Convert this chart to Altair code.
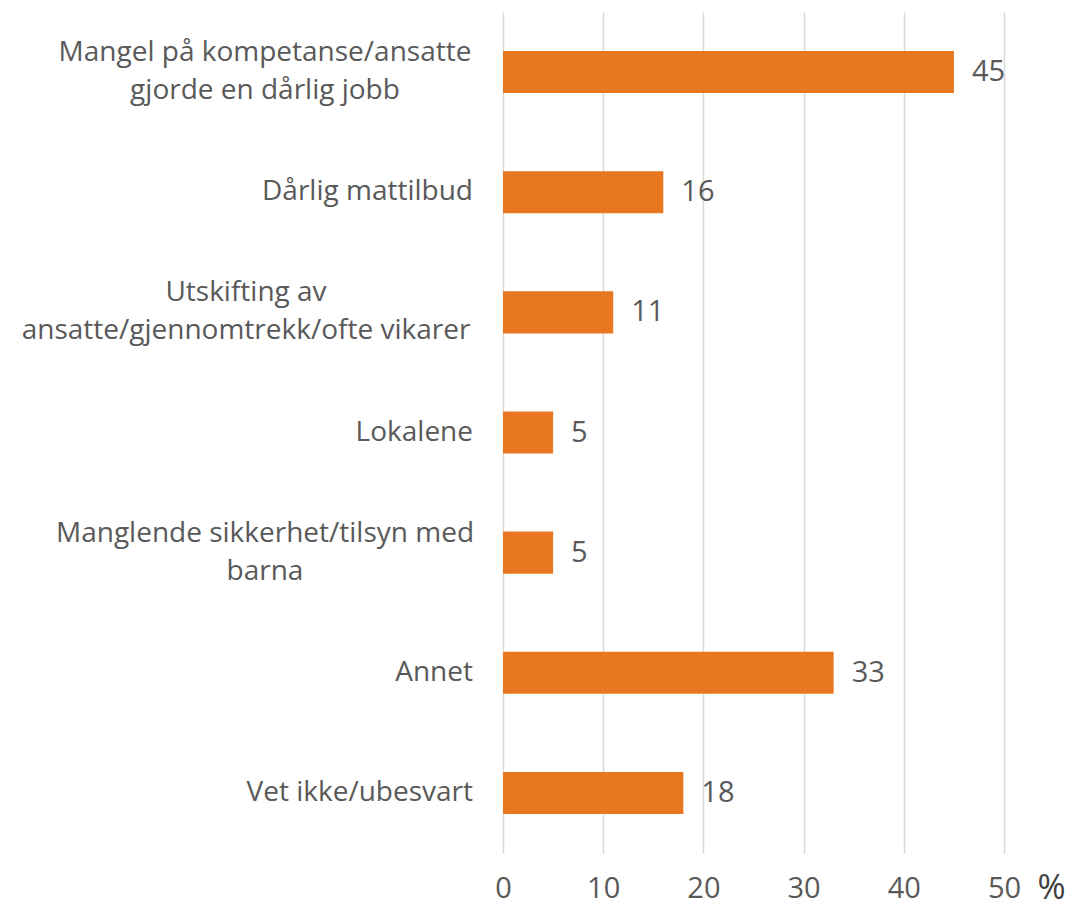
import altair as alt
import pandas as pd

categories = [
    "Mangel på kompetanse/ansatte\ngjorde en dårlig jobb",
    "Dårlig mattilbud",
    "Utskifting av\nansatte/gjennomtrekk/ofte vikarer",
    "Lokalene",
    "Manglende sikkerhet/tilsyn med\nbarna",
    "Annet",
    "Vet ikke/ubesvart",
]
values = [45, 16, 11, 5, 5, 33, 18]
x_ticks = [0, 10, 20, 30, 40, 50]
unit = "%"

df = pd.DataFrame({
    "cat": categories,
    "value": values,
    "multi": ["\n" in c for c in categories],
})

FONT = "Open Sans"
GRAY = "#595959"
ORANGE = "#E77721"

y_enc = alt.Y(
    "cat:N", sort=categories,
    scale=alt.Scale(paddingInner=0.65, paddingOuter=0.325),
    axis=None,
)

bars = alt.Chart(df).mark_bar(color=ORANGE).encode(
    x=alt.X(
        "value:Q",
        scale=alt.Scale(domain=[0, 50], nice=False),
        axis=alt.Axis(
            values=x_ticks, domain=False, ticks=False, labelFlush=False,
            grid=True, gridColor="#d9d9d9", gridWidth=1.5,
            labelFont=FONT, labelFontSize=29, labelColor=GRAY,
            labelBaseline="middle", labelPadding=35,
            title=unit, titleFont=FONT, titleFontSize=34, titleColor="#404040",
            titleFontWeight="normal", titleX=548, titleY=35,
            titleBaseline="middle", titleAlign="center", titleAngle=0,
        ),
    ),
    y=y_enc,
)

value_labels = alt.Chart(df).mark_text(
    align="left", baseline="middle", dx=18, font=FONT, fontSize=29, color=GRAY
).encode(
    x="value:Q",
    y=y_enc,
    text="value:Q",
)

text_style = dict(baseline="middle", font=FONT, fontSize=28, color=GRAY,
                  lineBreak="\n", lineHeight=38)

single_labels = alt.Chart(df).transform_filter("!datum.multi").mark_text(
    align="right", **text_style
).encode(x=alt.value(-30), y=y_enc, text="cat:N")

wide_test = "indexof(datum.cat, 'Utskifting') == 0"

multi_labels_a = alt.Chart(df).transform_filter(
    "datum.multi && !(" + wide_test + ")"
).mark_text(align="center", dy=-19, **text_style).encode(
    x=alt.value(-238), y=y_enc, text="cat:N"
)

multi_labels_b = alt.Chart(df).transform_filter(
    "datum.multi && (" + wide_test + ")"
).mark_text(align="center", dy=-19, **text_style).encode(
    x=alt.value(-257), y=y_enc, text="cat:N"
)

chart = alt.layer(bars, value_labels, single_labels, multi_labels_a, multi_labels_b).properties(
    width=501,
    height=841,
    autosize=alt.AutoSizeParams(type="none"),
    padding={"left": 495, "top": 4, "right": 63, "bottom": 55},
).configure(background="white").configure_view(stroke=None)

chart.save("out.html", embed_options={"renderer": "svg", "actions": False})
